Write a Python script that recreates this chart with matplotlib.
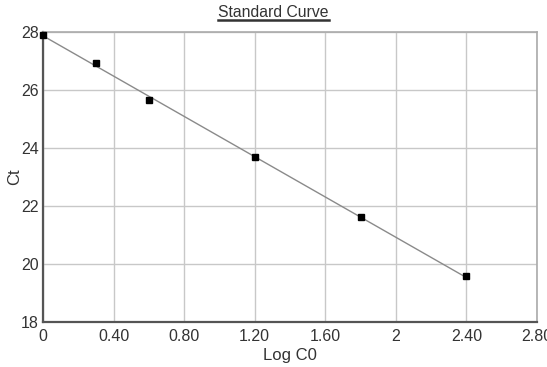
import numpy as np
import matplotlib
matplotlib.use("Agg")
import matplotlib.pyplot as plt

plt.rcParams['font.family'] = ['Liberation Sans', 'DejaVu Sans']

log_c0 = [0.0, 0.30, 0.60, 1.20, 1.80, 2.40]
ct = [27.9, 26.92, 25.66, 23.68, 21.61, 19.57]
x_ticks = [0, 0.4, 0.8, 1.2, 1.6, 2.0, 2.4, 2.8]
x_tick_labels = ["0", "0.40", "0.80", "1.20", "1.60", "2", "2.40", "2.80"]
y_ticks = [18, 20, 22, 24, 26, 28]

fig = plt.figure(figsize=(5.47, 3.67), dpi=100)
ax = fig.add_axes([0.0786, 0.1226, 0.9031, 0.790])

# regression line
slope, intercept = np.polyfit(log_c0, ct, 1)
xl = np.array([min(log_c0), max(log_c0)])
ax.plot(xl, slope * xl + intercept, color='#8a8a8a', lw=1.0, zorder=3)
ax.plot(log_c0, ct, 's', color='black', markersize=4.0, zorder=4, clip_on=False)

ax.set_xlim(0, 2.8)
ax.set_ylim(18, 28)
ax.set_xticks(x_ticks)
ax.set_xticklabels(x_tick_labels)
ax.set_yticks(y_ticks)
ax.grid(True, color='#c8c8c8', lw=1.0)
ax.set_axisbelow(True)
ax.tick_params(axis='both', length=0, labelsize=11.5, colors='#333333')
ax.tick_params(axis='x', pad=5)
ax.tick_params(axis='y', pad=3)
for s in ['left', 'bottom']:
    ax.spines[s].set_color('#555555')
    ax.spines[s].set_linewidth(1.6)
for s in ['top', 'right']:
    ax.spines[s].set_color('#aaaaaa')
    ax.spines[s].set_linewidth(1.2)

ax.set_xlabel('Log C0', fontsize=12, color='#333333', labelpad=3)
ax.set_ylabel('Ct', fontsize=12, color='#333333', labelpad=-1)

t = fig.text(0.5, 0.967, 'Standard Curve', ha='center', va='center',
             fontsize=11.3, color='#333333')
fig.canvas.draw()
bb = t.get_window_extent()
inv = fig.transFigure.inverted()
(x0, y0), (x1, y1) = inv.transform([[bb.x0, bb.y0], [bb.x1, bb.y1]])
fig.add_artist(plt.Line2D([x0, x1], [y0 - 0.002, y0 - 0.002], color='#333333',
                          lw=1.8, transform=fig.transFigure))

fig.savefig('out.png', dpi=100)
